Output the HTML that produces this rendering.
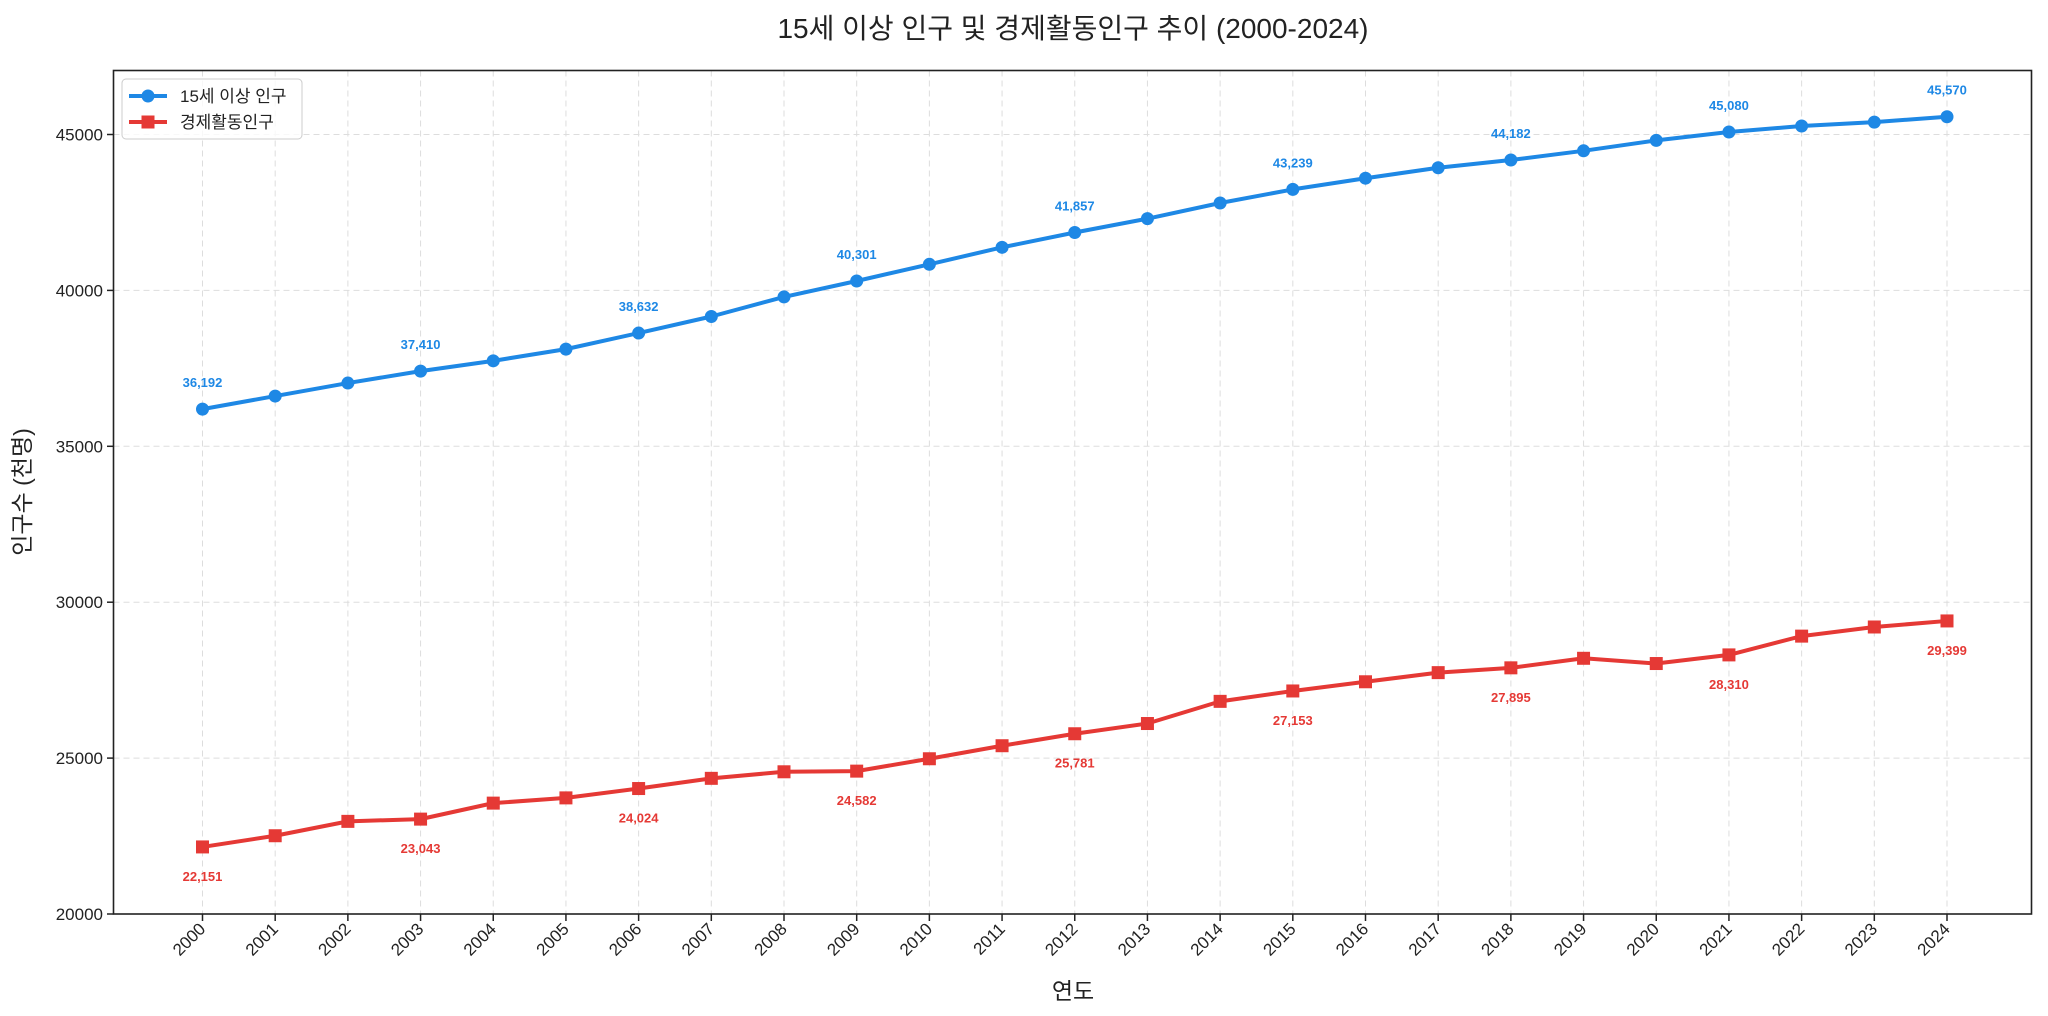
<!DOCTYPE html>
<html><head><meta charset="utf-8"><style>
html,body{margin:0;padding:0;background:#fff;}
svg{display:block;font-family:"Liberation Sans","Noto Sans CJK KR",sans-serif;}
</style></head><body>
<svg id="chart" width="2048" height="1016" viewBox="0 0 2048 1016" xmlns="http://www.w3.org/2000/svg">
<text x="1073" y="38" font-size="28" text-anchor="middle" fill="#222">15세 이상 인구 및 경제활동인구 추이 (2000-2024)</text>
<g id="grid"></g>
<g id="axes"></g>
<g id="series"></g>
<rect x="113.5" y="70.5" width="1918" height="843.5" fill="none" stroke="#222" stroke-width="1.6"/>
<text x="1073" y="999" font-size="23" text-anchor="middle" fill="#222">연도</text>
<text transform="translate(30,492) rotate(-90)" font-size="23" text-anchor="middle" fill="#222">인구수 (천명)</text>
<g>
<rect x="122" y="79" width="180" height="60" rx="4" fill="#fff" fill-opacity="0.8" stroke="#ccc"/>
<line x1="129" y1="96" x2="167" y2="96" stroke="#1e88e5" stroke-width="4"/>
<circle cx="148" cy="96" r="6.5" fill="#1e88e5"/>
<text x="180" y="102" font-size="17" fill="#222">15세 이상 인구</text>
<line x1="129" y1="122" x2="167" y2="122" stroke="#e53935" stroke-width="4"/>
<rect x="141.5" y="115.5" width="13" height="13" fill="#e53935"/>
<text x="180" y="128" font-size="17" fill="#222">경제활동인구</text>
</g>
</svg>
<script>
const years=[2000,2001,2002,2003,2004,2005,2006,2007,2008,2009,2010,2011,2012,2013,2014,2015,2016,2017,2018,2019,2020,2021,2022,2023,2024];
const pop15=[36192,36611,37029,37410,37741,38117,38632,39163,39791,40301,40837,41381,41857,42301,42803,43239,43598,43933,44182,44477,44812,45080,45272,45397,45570];
const active=[22151,22510,22971,23043,23556,23724,24024,24351,24561,24582,24979,25397,25781,26109,26820,27153,27448,27741,27895,28201,28033,28310,28912,29205,29399];
const yTicks=[20000,25000,30000,35000,40000,45000];
const NS="http://www.w3.org/2000/svg";
const xS=i=>202.5+i*(1947-202.5)/(years.length-1);
const yS=v=>914-(v-20000)*155.9/5000;
function mk(tag,attrs,parent,txt){const e=document.createElementNS(NS,tag);for(const k in attrs)e.setAttribute(k,attrs[k]);if(txt!==undefined)e.textContent=txt;parent.appendChild(e);return e;}
const grid=document.getElementById('grid'),axes=document.getElementById('axes'),ser=document.getElementById('series');
yTicks.forEach(t=>{const y=yS(t);
const g=mk('line',{x1:113.5,x2:2031.5,y1:y,y2:y,stroke:'#ddd','stroke-dasharray':'6,4','stroke-width':1},grid);


mk('line',{x1:107,x2:113.5,y1:y,y2:y,stroke:'#222','stroke-width':1.5},axes);
const tl=mk('text',{x:103,y:y+6,'font-size':17,'text-anchor':'end',fill:'#222'},axes,String(t));


});
years.forEach((yr,i)=>{const x=xS(i);
const g=mk('line',{x1:x,x2:x,y1:70.5,y2:914,stroke:'#ddd','stroke-dasharray':'6,4','stroke-width':1},grid);


mk('line',{x1:x,x2:x,y1:914,y2:921,stroke:'#222','stroke-width':1.5},axes);
const tl=mk('text',{x:x+4,y:930,'font-size':17,'text-anchor':'end',fill:'#222',transform:`rotate(-45 ${x+4} 930)`},axes,String(yr));


});
function draw(vals,color,marker,above,name){
const pts=vals.map((v,i)=>xS(i)+','+yS(v)).join(' ');
const pl=mk('polyline',{points:pts,fill:'none',stroke:color,'stroke-width':4,'stroke-linejoin':'round'},ser);


vals.forEach((v,i)=>{const x=xS(i),y=yS(v);let m;
if(marker==='circle')m=mk('circle',{cx:x,cy:y,r:6.5,fill:color},ser);
else m=mk('rect',{x:x-6.5,y:y-6.5,width:13,height:13,fill:color},ser);


if(i%3===0){const t=mk('text',{x:x,y:above?y-22:y+34,'font-size':13,'font-weight':'bold','text-anchor':'middle',fill:color},ser,v.toLocaleString('en-US'));

}
});}
draw(pop15,'#1e88e5','circle',true,'pop15');
draw(active,'#e53935','square',false,'active');
</script>
</body></html>
